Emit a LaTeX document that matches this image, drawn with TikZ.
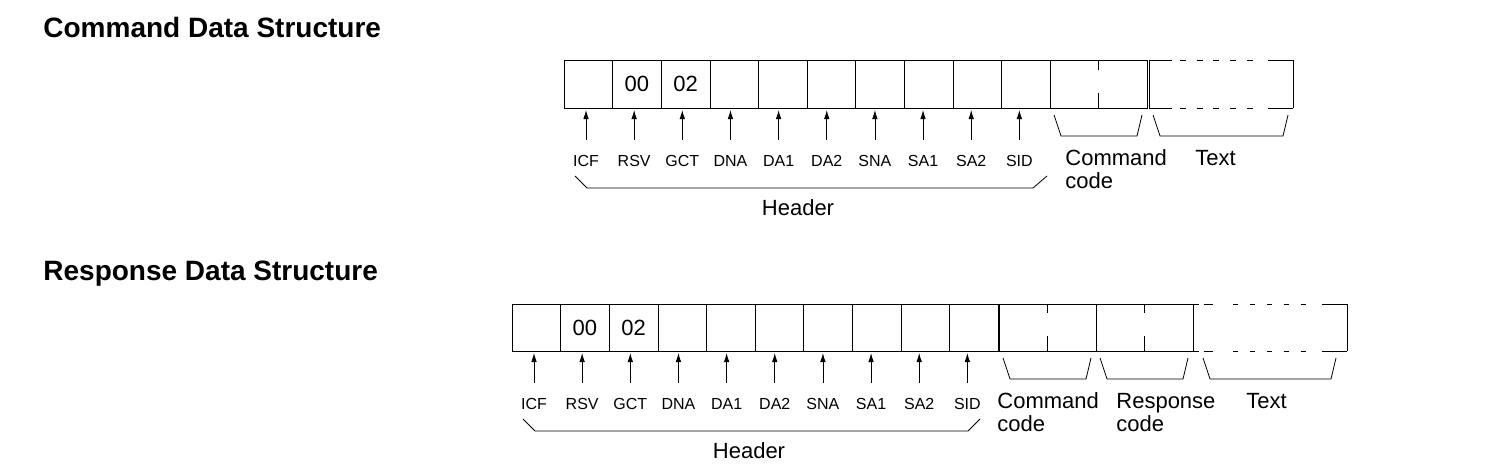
\documentclass[tikz,border=0pt]{standalone}
\usepackage{fontspec}
\setmainfont{Liberation Sans}
\usetikzlibrary{calc,arrows.meta}
\newcommand\FieldCell[4][]{% contents, name, field label, index
  \pgfmathsetmacro\cellX{\RowX+\CellW*(#4+0.5)}%
  \pgfmathsetmacro\tipX{\RowX+22+48.15*#4}%
  \node[field] (#2) at (\cellX,\RowY+\CellH/2) {#1};
  \coordinate (#2T) at (\tipX,\RowY+\CellH+32);
  \draw[->,shorten >=2pt] (#2T) -- (#2T |- #2.south);
  \node[fieldlabel] (#2L) at (\tipX,\RowY+\CellH+58) {#3};
}
\newcommand\CodeBrace[2][0]{% inset, boxed node
  \draw[brace] ($(#2.south west)+(4+#1,7)$) -- ++(7,21)
    -- ($(#2.south east)+(-10-#1,28)$) -- ($(#2.south east)+(-5-#1,7)$);
}
\tikzset{%
  >={Latex[length=9pt,width=5.5pt]}, % small filled heads
  every path/.style={line width=0.8pt},
  field/.style={draw,line width=0.9pt,minimum width=\CellW pt,
    minimum height=\CellH pt,inner sep=0pt,outer sep=0pt,
    font=\fontsize{22}{22}\selectfont},
  fieldlabel/.style={anchor=base,inner sep=0pt,font=\fontsize{16}{16}\selectfont},
  partlabel/.style={anchor=base west,inner sep=0pt,align=left,
    font=\fontsize{22}{23}\selectfont},
  title/.style={anchor=base west,inner sep=0pt,
    font=\fontsize{28}{28}\selectfont\bfseries},
  brace/.style={line width=0.8pt}
}
\begin{document}
\begin{tikzpicture}[x=1pt,y=-1pt]

\useasboundingbox (0,0) rectangle (1485,464);

%% some definitions

\def\CellW{48.65} % width of one header byte

%% command data structure

\node[title] (titleA) at (43,37) {Command Data Structure};

\def\RowX{564} % left edge of the frame
\def\RowY{60} % top edge of the frame
\def\CellH{48}
\FieldCell{aICF}{ICF}{0}
\FieldCell[00]{aRSV}{RSV}{1}
\FieldCell[02]{aGCT}{GCT}{2}
\FieldCell{aDNA}{DNA}{3}
\FieldCell{aDAa}{DA1}{4}
\FieldCell{aDAb}{DA2}{5}
\FieldCell{aSNA}{SNA}{6}
\FieldCell{aSAa}{SA1}{7}
\FieldCell{aSAb}{SA2}{8}
\FieldCell{aSID}{SID}{9}

\node[field,minimum width=97pt] (cmdA) at (1098.5,84) {};
\draw (cmdA.north) -- ++(0,10) (cmdA.south) -- ++(0,-15);
\node[minimum width=144pt,minimum height=48pt,inner sep=0pt,outer sep=0pt]
  (txtA) at (1221,84) {};
% text frame: solid corners, dashed middle
\draw[line width=0.9pt] (txtA.north west) -- (txtA.south west)
  (txtA.north east) -- (txtA.south east)
  (txtA.north west) -- ++(23,0) (txtA.north east) -- ++(-25,0)
  (txtA.south west) -- ++(23,0) (txtA.south east) -- ++(-25,0);
\draw[line width=0.9pt,dash pattern=on 6pt off 10.7pt]
  ($(txtA.north west)+(31,0)$) -- ($(txtA.north east)+(-40,0)$)
  ($(txtA.south west)+(31,0)$) -- ($(txtA.south east)+(-40,0)$);

\CodeBrace{cmdA}
\CodeBrace{txtA}
% the base of a two-line node is its last line
\node[partlabel] (cmdAL) at (1065,188) {Command\\code};
\node[partlabel] (txtAL) at (1195,165) {Text};

\coordinate (hdrA1) at (575,176);
\coordinate (hdrA2) at (1047,176);
\draw[brace] (hdrA1) -- ++(12,12) -- ($(hdrA2)+(-14,12)$) -- (hdrA2);
\node[fieldlabel,font=\fontsize{22}{22}\selectfont] (hdrAL) at (798,215) {Header};

%% response data structure

\node[title] (titleB) at (43,280) {Response Data Structure};

\def\RowX{512}
\def\RowY{304}
\def\CellH{47}
\FieldCell{bICF}{ICF}{0}
\FieldCell[00]{bRSV}{RSV}{1}
\FieldCell[02]{bGCT}{GCT}{2}
\FieldCell{bDNA}{DNA}{3}
\FieldCell{bDAa}{DA1}{4}
\FieldCell{bDAb}{DA2}{5}
\FieldCell{bSNA}{SNA}{6}
\FieldCell{bSAa}{SA1}{7}
\FieldCell{bSAb}{SA2}{8}
\FieldCell{bSID}{SID}{9}

\node[field,minimum width=97pt] (cmdB) at (1047.5,327.5) {};
\draw (cmdB.north) -- ++(0,9) (cmdB.south) -- ++(0,-15);
\node[field,minimum width=97pt] (rspB) at (1144.5,327.5) {};
\draw (rspB.north) -- ++(0,9) (rspB.south) -- ++(0,-15);
\node[minimum width=154pt,minimum height=47pt,inner sep=0pt,outer sep=0pt]
  (txtB) at (1270,327.5) {};
\draw[line width=0.9pt] (txtB.north east) -- (txtB.south east)
  (txtB.north west) -- ++(6,0) (txtB.north east) -- ++(-25,0)
  (txtB.south west) -- ++(6,0) (txtB.south east) -- ++(-25,0)
  ($(txtB.north west)+(11,0)$) -- ++(9,0)
  ($(txtB.south west)+(11,0)$) -- ++(9,0);
\draw[line width=0.9pt,dash pattern=on 5pt off 12pt]
  ($(txtB.north west)+(40,0)$) -- ($(txtB.north east)+(-39,0)$)
  ($(txtB.south west)+(40,0)$) -- ($(txtB.south east)+(-39,0)$);

\CodeBrace{cmdB}
\CodeBrace{rspB}
\CodeBrace[6]{txtB}
\node[partlabel] (cmdBL) at (997,431) {Command\\code};
\node[partlabel] (rspBL) at (1116,431) {Response\\code};
\node[partlabel] (txtBL) at (1246,408) {Text};

\coordinate (hdrB1) at (523,419);
\coordinate (hdrB2) at (980,419);
\draw[brace] (hdrB1) -- ++(12,12) -- ($(hdrB2)+(-12,12)$) -- (hdrB2);
\node[fieldlabel,font=\fontsize{22}{22}\selectfont] (hdrBL) at (749,458) {Header};

\end{tikzpicture}
\end{document}
